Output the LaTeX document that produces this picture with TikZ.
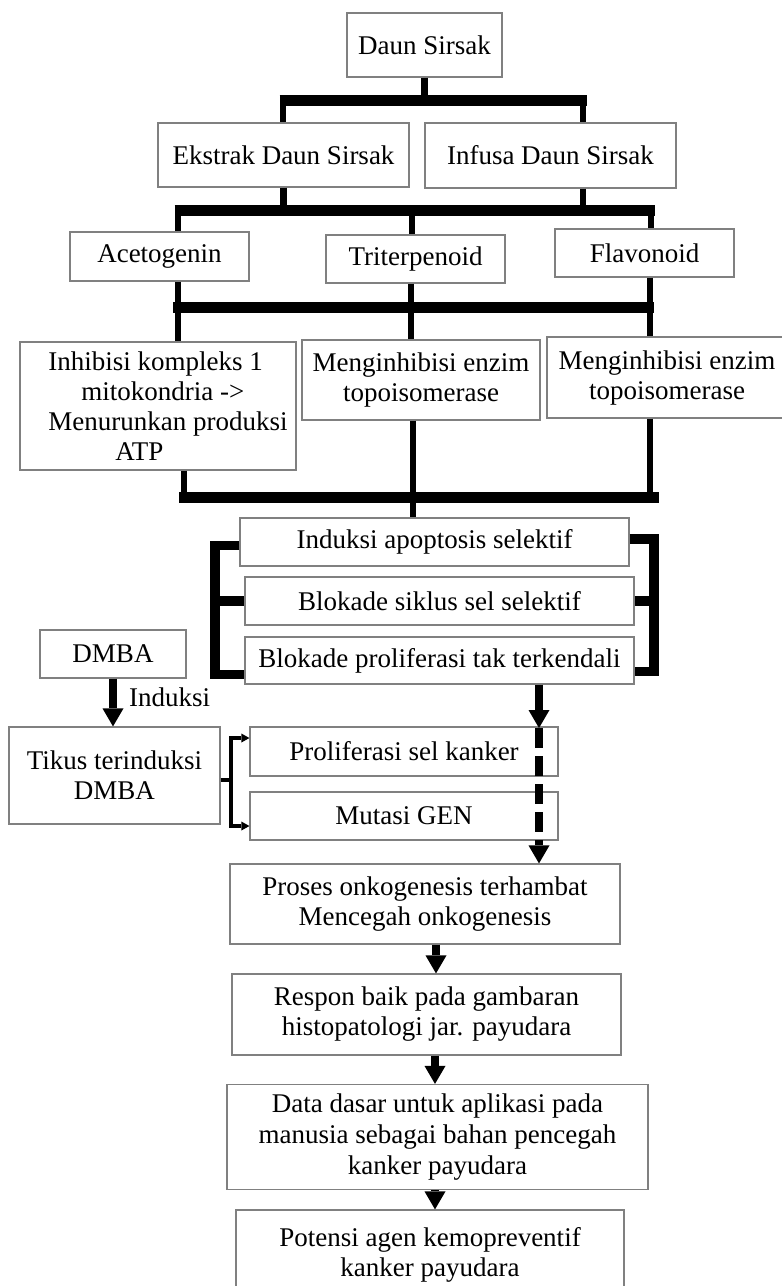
\documentclass[tikz,border=0pt]{standalone}
\usepackage{fontspec}
\setmainfont{Liberation Serif}
\usetikzlibrary{arrows.meta,calc}

\begin{document}
\begin{tikzpicture}[x=1pt,y=-1pt,
    box/.style={draw=black!50, line width=1.2pt, inner sep=0pt, align=center, font=\fontsize{27}{30}\selectfont},
    stem/.style={line width=6.5pt},
    bus/.style={line width=11pt},
    brace/.style={line width=9.5pt, line join=miter},
    bigarrow/.style={line width=7.5pt, -{Triangle[length=18pt, width=21pt, line width=0pt]}},
    thinarrow/.style={line width=3.5pt, line join=miter, -{Triangle[length=8pt, width=9pt, line width=0pt]}}]
        \useasboundingbox (0,0) rectangle (782,1286);
        \clip (0,0) rectangle (782,1286);

        \node[box, minimum width=155pt, minimum height=64pt] (daun) at (424.5,45) {Daun Sirsak};
        \node[box, minimum width=251pt, minimum height=64pt] (ekstrak) at (283.5,155) {Ekstrak Daun Sirsak};
        \node[box, minimum width=251pt, minimum height=65pt] (infusa) at (550.5,155.5) {Infusa Daun Sirsak};

        \node[box, minimum width=179pt, minimum height=49pt] (aceto) at (159.5,256.5) {Acetogenin};
        \node[box, minimum width=179pt, minimum height=48pt] (triter) at (415.5,259) {Triterpenoid};
        \node[box, minimum width=179pt, minimum height=48pt] (flavo) at (644.5,253) {Flavonoid};

        \node[box, minimum width=276pt, minimum height=128pt, align=left] (inhib) at (158,406)
            {\hspace*{20pt}Inhibisi kompleks 1\\\hspace*{53pt}mitokondria ->\\\hspace*{20pt}Menurunkan produksi\\\hspace*{87pt}ATP};
        \node[box, minimum width=238pt, minimum height=80pt] (meng1) at (421,380) {Menginhibisi enzim\\topoisomerase};
        \node[box, minimum width=240pt, minimum height=81pt] (meng2) at (667,377.5) {Menginhibisi enzim\\topoisomerase};

        \node[box, minimum width=389pt, minimum height=48pt] (apop) at (434.5,542) {Induksi apoptosis selektif};
        \node[box, minimum width=389pt, minimum height=48pt] (siklus) at (439.5,601) {Blokade siklus sel selektif};
        \node[box, minimum width=389pt, minimum height=47pt] (prolif) at (439.5,660.5) {Blokade proliferasi tak terkendali};

        \node[box, minimum width=146pt, minimum height=48pt] (dmba) at (113,654) {DMBA};
        \node[box, minimum width=211pt, minimum height=97pt] (tikus) at (114.5,775.5) {Tikus terinduksi\\DMBA};
        \node[box, minimum width=308pt, minimum height=49pt] (kanker) at (404,751.5) {Proliferasi sel kanker};
        \node[box, minimum width=308pt, minimum height=48pt] (mutasi) at (404,816) {Mutasi GEN};

        \node[box, minimum width=390pt, minimum height=80pt] (proses) at (425,904) {Proses onkogenesis terhambat\\Mencegah onkogenesis};
        \node[box, minimum width=389pt, minimum height=81pt] (respon) at (426.5,1014.5) {Respon baik pada gambaran\\histopatologi jar. payudara};
        \node[box, minimum width=421pt, minimum height=105pt, font=\fontsize{27}{31}\selectfont] (data) at (437.5,1137) {Data dasar untuk aplikasi pada\\manusia sebagai bahan pencegah\\kanker payudara};
        \node[box, minimum width=388pt, minimum height=90pt] (potensi) at (430,1255) {Potensi agen kemopreventif\\kanker payudara};

        \coordinate (b1l) at (283,100.5);
        \coordinate (b1r) at (583,100.5);
        \draw[stem] (daun.south) -- (daun.south |- b1l);
        \draw[bus] ($(b1l)+(-3.5,0)$) -- ($(b1r)+(3.5,0)$);
        \draw[stem] (b1l) -- (b1l |- ekstrak.north);
        \draw[stem] (b1r) -- (b1r |- infusa.north);

        \coordinate (b2a) at (178,210.5);
        \coordinate (b2b) at (412,210.5);
        \coordinate (b2c) at (651,210.5);
        \draw[stem] (ekstrak.south) -- (ekstrak.south |- b2b);
        \draw[stem] (b1r |- infusa.south) -- (b1r |- b2b);
        \draw[bus] ($(b2a)+(-3.5,0)$) -- ($(b2c)+(3.5,0)$);
        \draw[stem] (b2a) -- (b2a |- aceto.north);
        \draw[stem] (b2b) -- (b2b |- triter.north);
        \draw[stem] (b2c) -- (b2c |- flavo.north);

        \coordinate (b3a) at (178,307.5);
        \coordinate (b3b) at (411,307.5);
        \coordinate (b3c) at (650,307.5);
        \draw[stem] (b3a |- aceto.south) -- (b3a |- inhib.north);
        \draw[stem] (b3b |- triter.south) -- (b3b |- meng1.north);
        \draw[stem] (b3c |- flavo.south) -- (b3c |- meng2.north);
        \draw[bus] ($(b3a)+(-5,0)$) -- ($(b3c)+(4,0)$);

        \coordinate (b4a) at (184,497.5);
        \coordinate (b4b) at (413,497.5);
        \coordinate (b4c) at (650,497.5);
        \draw[stem] (b4a |- inhib.south) -- (b4a);
        \draw[stem] (b4b |- meng1.south) -- (b4b |- apop.north);
        \draw[stem] (b4c |- meng2.south) -- (b4c);
        \draw[bus] ($(b4a)+(-5,0)$) -- ($(b4c)+(9,0)$);

        \coordinate (lb) at (215,545.5);
        \coordinate (rb) at (654,539);
        \draw[brace] ($(apop.west)+(0,3.5)$) -| (lb) |- ($(prolif.west)+(0,14)$);
        \draw[brace] (siklus.west) -- (siklus.west -| lb);
        \draw[brace] ($(apop.east)+(0,-3)$) -| (rb) |- ($(prolif.east)+(0,11)$);
        \draw[brace] (siklus.east) -- (siklus.east -| rb);

        \coordinate (cut) at (539,728);
        \draw[bigarrow] (prolif.south -| cut) -- (cut);
        \draw[bigarrow, dash pattern=on 20pt off 8pt] (cut) -- (cut |- proses.north);

        \draw[bigarrow] (dmba.south) -- (dmba.south |- tikus.north);
        \node[inner sep=0pt, anchor=west, font=\fontsize{27}{30}\selectfont] (induksi) at (129,697) {Induksi};

        \coordinate (tb) at (231,780);
        \draw[line width=3.5pt] ($(tikus.east)+(0,4.5)$) -- (tb);
        \draw[thinarrow] (tb) |- ($(kanker.west)+(0,-13.5)$);
        \draw[thinarrow] (tb) |- ($(mutasi.west)+(0,10)$);

        \draw[bigarrow] ([xshift=11pt]proses.south) -- ([xshift=11pt]proses.south |- respon.north);
        \draw[bigarrow] ([xshift=8.5pt]respon.south) -- ([xshift=8.5pt]respon.south |- data.north);
        \draw[bigarrow] ([xshift=-2.5pt]data.south) -- ([xshift=-2.5pt]data.south |- potensi.north);
      \end{tikzpicture}
\end{document}
